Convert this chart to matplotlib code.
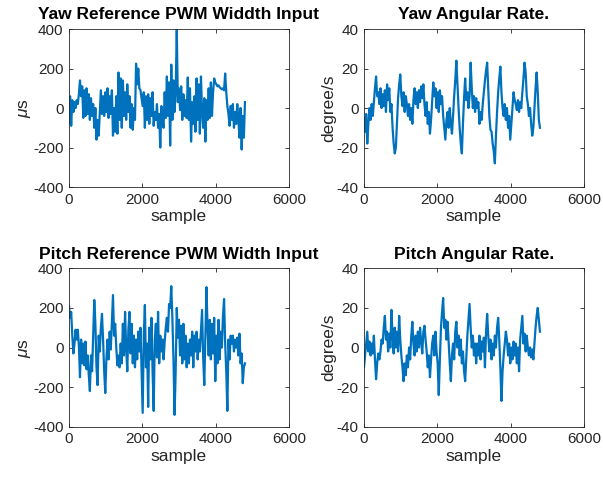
import matplotlib.pyplot as plt
import numpy as np

plt.rcParams['font.family'] = ['Liberation Sans', 'DejaVu Sans']
plt.rcParams['mathtext.fontset'] = 'custom'
plt.rcParams['mathtext.it'] = 'Liberation Sans:italic'
plt.rcParams['mathtext.rm'] = 'Liberation Sans'
plt.rcParams['axes.unicode_minus'] = False

step = 30  # samples between read points

yaw_pwm = [-80, 60, -90, 40,
           -20, 30, 0, 40, 20, 70,
           140, 60,
           110, -50, 90,
           -40, 100, -30, 70, -60, 50,
           -40, 20, -100, 0, -160, -60, -140,
           -20, 90, -30,
           60, -40, 80, -20, 100, -50, 60, -30, 90,
           -140, 0, -120, 60,
           -130, 180, -60, 150, -100, 140, -40,
           80, -60, 120, -20, 60, -100,
           20, -110, 0, -60,
           225, 120, 200, 100,
           90, 50, 10,
           80, -100, 60, -60, 70, -80, 50, -40, 80,
           -90, -20, -60, 20, -100, -30,
           -200, 10, -60, -100,
           80, -50, 160, -40, 130,
           -190, 220, -60, 140,
           -20, 80, 400,
           30, 100, -10,
           110, -60, 70, -40, 40,
           -50, 155, -60, 100,
           -170, 30, -80, 60,
           -120, 150, -60, 120, -130, 160, -20,
           -100, 50, -170, 40, -60,
           100, -50, 130, -40, 80, 150,
           130, 120, 110, 115, 105, 100, 95, 100, 90,
           175,
           80, 10, -30,
           -90, 10, -60, 20, -100, -20, -80, 20,
           -60, -150, 0, -210, -40,
           -150, 30]

yaw_rate = [-5, -12, -3, -18,
            -8, 0, -6, 2, -4, 3,
            10, 16, 6,
            8, 2, 10, 0, 7, 1, 9, -2, 12,
            4, 10, -2, 2,
            -10, -18, -23, -20,
            -8, 5, 12, 17,
            6, 1, 8, -2, 6, 2,
            -4, 2, -6, 0, -8,
            4, 10, 2, 8, 0, 9, 3, 11, 5, 12, 2,
            -4, 3, -8, -2, -13, -6,
            4, 13, 6,
            10, 0, 8, -2, 9, 2, 6, -4,
            -10, -16, -6,
            -2, -10, 0, -8,
            -13, -4, 6,
            14, 24, 12,
            0, -10, -18, -23,
            -8, 5, 15,
            4, 8, 0, 6,
            23, 10,
            0, 6, -2, 5, 0, 3,
            -8, -2, -6, 2,
            8, 14, 19, 23,
            10, -4, -11,
            -12, -18, -22, -28,
            -14, -2, 8, 15, 21,
            8, 0, -4, 2,
            -6, 0, -10, -4, -16,
            -8, 0, 8, 4,
            2, -1, 4, -2, 3, 0, 8,
            15, 23, 18,
            6, 2, -4, 0,
            -8, -14, -10,
            0, 10, 18,
            8, -6, -10]

pitch_pwm = [210, 150, 180, 60,
             -30, 20, 90,
             40, 90, 10,
             -150, 40, -80,
             20, -90, 30,
             -110, -40, -140, -220,
             -40, -120, 60,
             240, 120,
             -100, -190,
             60, -20, 100,
             170, 40,
             -120, -230, -60,
             40, -60, 80,
             -10, 130, 265,
             60, 120, 0, -90,
             -40, -100, 20,
             -80, 120, -40, 180, 0, -120,
             90, 180, -30, 120, -80, 60,
             -100, 40, -60, 80, -20,
             100, -120, -330,
             60, 215,
             -100, 20, -300,
             100, -60, 150, -120,
             -320, 40, 120,
             -50, 180, -80, 60, -20,
             40, -60, 30, 100,
             150, 80, 220, 200,
             310, 150,
             -60, -340,
             -120, 200, 50,
             140, -40, 110, -80, 120,
             -60, 60, -100, 20, -80, 40,
             -40, 80, -100, 60, -20, 80,
             -60, 40, -20, 90,
             190, -50, -190, 50,
             305, 100,
             -40, 140, -60, 120, -30,
             150, -170, 60, -80,
             140, -60, 80, 0,
             160, 245, 20,
             -120, -320,
             40, -60, 60, 20,
             60, -20, 40, 0, 50,
             -40, 70, -80,
             -30, -180,
             -100, -80]

pitch_rate = [-10, -4, 2, 8,
              -2, 3, -4, 2, -3, 6,
              -6, -16, -8,
              -3, -6, -2,
              4, 2, 10, 16,
              4, 8, -2, 7, 0, 19,
              6, -3, 10, 0, 8, -2, 16,
              4, -4, -10, -17, -8, -14, -4,
              -10, 0, -6, 6, 13,
              2, -4, 6, -2, 8, 0, 10, 3, -3, 8, 11,
              4, -2, -10, -4, -15, -6,
              2, 6, -4, 8, -2, -8,
              -24, -6,
              10, 18, 25,
              10, 14, 4, 13, 2,
              -8, -17, -4,
              2, -6, 8,
              13, 0, 6, -4, 4,
              -8, -2, -12, -17, -6,
              6, 14, 22,
              10, 0, 6, -4, 2,
              -8, 2, -4, 6, -6, 3, -2, 5, -10, 8,
              17, 6,
              -2, 4, -6, 2, -4, 6, 0,
              10, 15, 4,
              -10, -27, -12,
              -4, 2, 8, 4,
              -4, 2, -8, 0, -6, 3,
              -4, 2, -8, 0, -12,
              4, 10, 16,
              2, 7, -2, 6, 0,
              -4, 0, -5, -1, -6, 2,
              10, 16, 20,
              14, 8]

panels = [
    ('Yaw Reference PWM Widdth Input', yaw_pwm, r'$\mu$s', (-400, 400), [-400, -200, 0, 200, 400]),
    ('Yaw Angular Rate.', yaw_rate, 'degree/s', (-40, 40), [-40, -20, 0, 20, 40]),
    ('Pitch Reference PWM Width Input', pitch_pwm, r'$\mu$s', (-400, 400), [-400, -200, 0, 200, 400]),
    ('Pitch Angular Rate.', pitch_rate, 'degree/s', (-40, 40), [-40, -20, 0, 20, 40]),
]

positions = [
    [0.1144, 0.6104, 0.3648, 0.329],
    [0.6036, 0.6104, 0.3648, 0.329],
    [0.1144, 0.111, 0.3648, 0.33],
    [0.6036, 0.111, 0.3648, 0.33],
]

fig = plt.figure(figsize=(6.03, 4.8), dpi=100)
edge = '#262626'
for (title, vals, ylab, ylim, yticks), pos in zip(panels, positions):
    ax = fig.add_axes(pos)
    x = np.arange(len(vals)) * step
    ax.plot(x, vals, color='#0072BD', linewidth=1.6)
    ax.set_xlim(0, 6000)
    ax.set_ylim(*ylim)
    ax.set_xticks([0, 2000, 4000, 6000])
    ax.set_yticks(yticks)
    ax.tick_params(direction='in', top=True, right=True, labelsize=11,
                   colors=edge, length=3, width=0.6, pad=4)
    for s in ax.spines.values():
        s.set_color(edge)
        s.set_linewidth(0.6)
    ax.set_title(title, fontsize=12.5, fontweight='bold', pad=7)
    ax.set_xlabel('sample', fontsize=12.5, color=edge, labelpad=2)
    ax.set_ylabel(ylab, fontsize=12.5, color=edge, labelpad=0)

fig.savefig('out.png', dpi=100)
